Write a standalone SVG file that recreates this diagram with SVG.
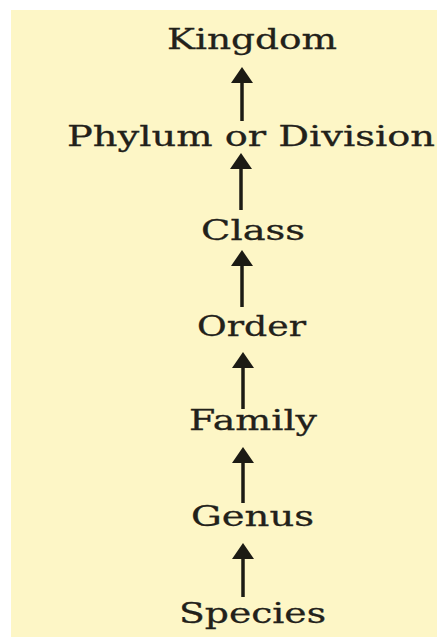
<svg xmlns="http://www.w3.org/2000/svg" width="437" height="639" viewBox="0 0 437 639">
  <style>
    .lbl { font-family: "DejaVu Serif", "Liberation Serif", serif; font-size: 27.5px; fill: #22211a; stroke: #22211a; stroke-width: 0.3; }
    .shaft { stroke: #1c1b14; stroke-width: 3.5; fill: none; }
    .head { fill: #1c1b14; }
  </style>
  <rect x="0" y="0" width="437" height="639" fill="#ffffff"/>
  <rect x="11" y="10" width="426" height="627" fill="#fdf6c6"/>
  <g id="connectors">
    <g id="c1"><line class="shaft" x1="242" y1="80" x2="242" y2="121"/><polygon class="head" points="242,67 231,83 253,83"/></g>
    <g id="c2"><line class="shaft" x1="241" y1="166" x2="241" y2="210"/><polygon class="head" points="241,153 230,169 252,169"/></g>
    <g id="c3"><line class="shaft" x1="242" y1="263" x2="242" y2="307"/><polygon class="head" points="242,250 231,266 253,266"/></g>
    <g id="c4"><line class="shaft" x1="243" y1="365" x2="243" y2="409"/><polygon class="head" points="243,352 232,368 254,368"/></g>
    <g id="c5"><line class="shaft" x1="243" y1="460" x2="243" y2="503"/><polygon class="head" points="243,447 232,463 254,463"/></g>
    <g id="c6"><line class="shaft" x1="243" y1="556" x2="243" y2="597"/><polygon class="head" points="243,543 232,559 254,559"/></g>
  </g>
  <g id="kingdom"><text class="lbl" x="167" y="49" textLength="170" lengthAdjust="spacingAndGlyphs">Kingdom</text></g>
  <g id="phylum"><text class="lbl" x="67" y="146" textLength="368" lengthAdjust="spacingAndGlyphs">Phylum or Division</text></g>
  <g id="class"><text class="lbl" x="201" y="240" textLength="104" lengthAdjust="spacingAndGlyphs">Class</text></g>
  <g id="order"><text class="lbl" x="197" y="336" textLength="109" lengthAdjust="spacingAndGlyphs">Order</text></g>
  <g id="family"><text class="lbl" x="189" y="430" textLength="128" lengthAdjust="spacingAndGlyphs">Family</text></g>
  <g id="genus"><text class="lbl" x="191" y="526" textLength="123" lengthAdjust="spacingAndGlyphs">Genus</text></g>
  <g id="species"><text class="lbl" x="179" y="623" textLength="147" lengthAdjust="spacingAndGlyphs">Species</text></g>
</svg>
